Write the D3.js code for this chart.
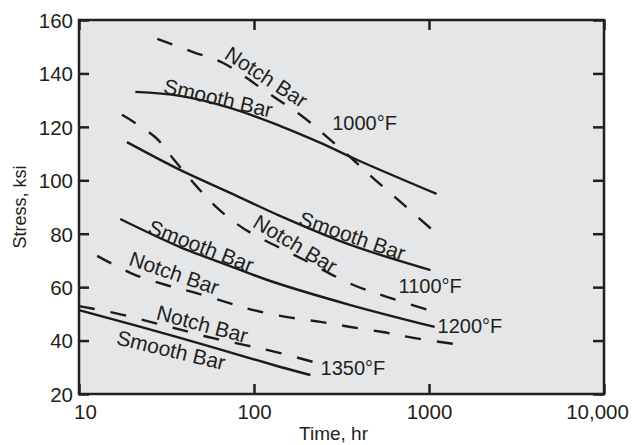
<!DOCTYPE html>
<html>
<head>
<meta charset="utf-8">
<script src="https://cdn.jsdelivr.net/npm/d3@7"></script>
<style>
  body { margin: 0; background: #fff; }
  svg text { font-family: "Liberation Sans", Arial, Helvetica, sans-serif; fill: #231f20; }
</style>
</head>
<body>
<script>
(function(){

// time (hr) / stress (ksi)
var smooth1000T = [21, 37.8, 73, 141.5, 240, 390, 1105];
var smooth1000S = [133.1, 131.6, 127.1, 120.3, 114.0, 107.6, 94.9];
var notch1000T = [28, 44.9, 66.7, 116, 191, 266, 370, 494, 687, 1047];
var notch1000S = [152.9, 148.0, 143.9, 133.4, 123.7, 115.8, 107.6, 100.1, 91.9, 81.4];

var smooth1100T = [18.8, 37.8, 73.1, 141.5, 356, 1020];
var smooth1100S = [114.3, 103.9, 95.3, 86.6, 75.8, 66.4];
var notch1100T = [17.6, 27.2, 35.4, 46.7, 62.5, 88.0, 184, 370, 579, 995];
var notch1100S = [124.5, 116.2, 107.2, 97.9, 89.3, 81.8, 70.9, 60.8, 56.3, 51.4];

var smooth1200T = [17.2, 37.8, 73.1, 124, 356, 1077];
var smooth1200S = [85.5, 75.0, 67.9, 62.3, 53.3, 45.1];
var notch1200T = [12.7, 20.4, 31.5, 44.4, 69.3, 99.1, 155, 240, 356, 542, 816, 1402];
var notch1200S = [71.7, 64.9, 60.8, 58.2, 54.4, 51.4, 48.8, 47.0, 45.1, 43.2, 41.0, 38.7];

var smooth1350T = [10, 37.8, 141.5, 210];
var smooth1350S = [51.4, 41.0, 30.1, 27.1];
var notch1350T = [10, 16.1, 25.5, 38.4, 57.7, 89.1, 134, 218];
var notch1350S = [52.9, 50.3, 47.0, 44.0, 41.0, 38.3, 35.7, 32.0];

var xTicks = [10, 100, 1000, 10000];
var xTickLabels = ["10", "100", "1000", "10,000"];
var yTicks = [20, 40, 60, 80, 100, 120, 140, 160];

// curve labels: text, time, stress, angle
var barLabels = ["Notch Bar", "Smooth Bar", "Smooth Bar", "Notch Bar", "Smooth Bar", "Notch Bar", "Notch Bar", "Smooth Bar"];
var barLabelT = [117.6, 62.5, 365, 172, 49.9, 35.0, 50.6, 33.6];
var barLabelS = [138.7, 130.8, 79.2, 76.2, 75.4, 65.3, 46.2, 36.5];
var barLabelA = [33, 13, 19, 31, 21, 19, 15, 13.5];

var tempLabels = ["1000°F", "1100°F", "1200°F", "1350°F"];
var tempLabelT = [280, 670, 1119, 240];
var tempLabelS = [118.8, 57.8, 42.8, 27.1];

var width = 641, height = 445;
var margin = {top: 20, right: 37, bottom: 51, left: 79};
var innerW = width - margin.left - margin.right,
    innerH = height - margin.top - margin.bottom;

var svg = d3.select("body").append("svg")
    .attr("width", width)
    .attr("height", height);

var g = svg.append("g")
    .attr("transform", "translate(" + margin.left + "," + margin.top + ")");

var x = d3.scaleLog().domain([10, 10000]).range([0, innerW]);
var y = d3.scaleLinear().domain([20, 160]).range([innerH, 0]);

//plot background
g.append("rect")
    .attr("width", innerW)
    .attr("height", innerH)
    .attr("fill", "#e4e6e8");

//axes with inward ticks
function styleAxis(sel){
    sel.select(".domain").remove();
    sel.selectAll(".tick line").attr("stroke", "#231f20").attr("stroke-width", 2.5);
    sel.selectAll(".tick text").attr("font-size", 20.5).attr("fill", "#231f20");
}

var yAxis = g.append("g")
    .call(d3.axisLeft(y).tickValues(yTicks).tickSize(-10).tickPadding(6));
styleAxis(yAxis);
yAxis.selectAll(".tick text").attr("dy", "0.36em");

g.append("g")
    .attr("transform", "translate(" + innerW + ",0)")
    .call(d3.axisRight(y).tickValues(yTicks).tickSize(-11).tickFormat(""))
    .call(styleAxis);

var xAxis = g.append("g")
    .attr("transform", "translate(0," + innerH + ")")
    .call(d3.axisBottom(x).tickValues(xTicks).tickSize(-10).tickPadding(10)
        .tickFormat(function(d, i){ return xTickLabels[i]; }));
styleAxis(xAxis);
xAxis.selectAll(".tick text")
    .attr("dx", function(d, i){ return i == 0 ? 6 : (i == xTicks.length - 1 ? -7 : 0); });

g.append("g")
    .call(d3.axisTop(x).tickValues(xTicks).tickSize(-10).tickFormat(""))
    .call(styleAxis);

//frame
g.append("rect")
    .attr("width", innerW)
    .attr("height", innerH)
    .attr("fill", "none")
    .attr("stroke", "#231f20")
    .attr("stroke-width", 2.5);

//curves
var line = d3.line()
    .x(function(d){ return x(d[0]); })
    .y(function(d){ return y(d[1]); })
    .curve(d3.curveCatmullRom.alpha(0.5));

var curves = [
    {t: smooth1000T, s: smooth1000S, dash: null},
    {t: notch1000T, s: notch1000S, dash: "16,16"},
    {t: smooth1100T, s: smooth1100S, dash: null},
    {t: notch1100T, s: notch1100S, dash: "16,16"},
    {t: smooth1200T, s: smooth1200S, dash: null},
    {t: notch1200T, s: notch1200S, dash: "16,16"},
    {t: smooth1350T, s: smooth1350S, dash: null},
    {t: notch1350T, s: notch1350S, dash: "16,16"}
];

g.selectAll(".curve")
    .data(curves)
    .enter()
    .append("path")
    .attr("class", "curve")
    .attr("d", function(c){ return line(d3.zip(c.t, c.s)); })
    .attr("fill", "none")
    .attr("stroke", "#1c1a1b")
    .attr("stroke-width", 2.4)
    .attr("stroke-dasharray", function(c){ return c.dash; });

//curve labels
g.selectAll(".barLabel")
    .data(barLabels)
    .enter()
    .append("text")
    .attr("class", "barLabel")
    .attr("text-anchor", "middle")
    .attr("dy", "0.35em")
    .attr("font-size", 21)
    .attr("transform", function(d, i){
        return "translate(" + x(barLabelT[i]) + "," + y(barLabelS[i]) + ") rotate(" + barLabelA[i] + ")";
    })
    .text(function(d){ return d; });

//temperature labels
g.selectAll(".tempLabel")
    .data(tempLabels)
    .enter()
    .append("text")
    .attr("class", "tempLabel")
    .attr("font-size", 20)
    .attr("x", function(d, i){ return x(tempLabelT[i]); })
    .attr("y", function(d, i){ return y(tempLabelS[i]); })
    .text(function(d){ return d; });

//axis titles
svg.append("text")
    .attr("text-anchor", "middle")
    .attr("font-size", 18)
    .attr("transform", "translate(26," + (margin.top + innerH / 2) + ") rotate(-90)")
    .text("Stress, ksi");

svg.append("text")
    .attr("text-anchor", "middle")
    .attr("font-size", 19)
    .attr("x", margin.left + innerW / 2 - 8)
    .attr("y", 440)
    .text("Time, hr");

})();
</script>
</body>
</html>
